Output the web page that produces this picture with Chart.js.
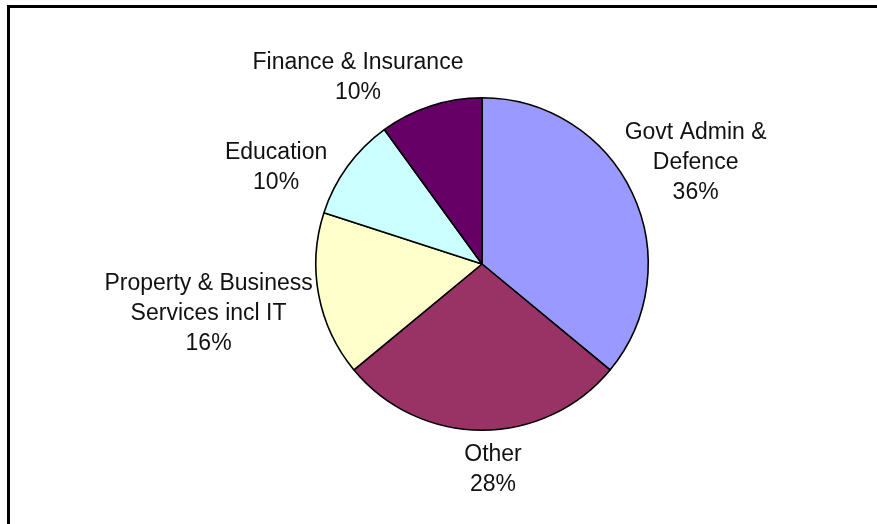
<!DOCTYPE html>
<html>
<head>
<meta charset="utf-8">
<title>Employment by sector</title>
<script src="https://cdn.jsdelivr.net/npm/chart.js@4.4.1/dist/chart.umd.min.js"></script>
<style>
  html, body { margin: 0; padding: 0; background: #fff; }
  #wrap { position: relative; width: 877px; height: 524px; overflow: hidden; }
  canvas { display: block; }
</style>
</head>
<body>
<div id="wrap"><canvas id="sectorChart" width="877" height="524"></canvas></div>
<script>
  // sectors, clockwise from 12 o'clock
  const sectors = [
    ["Govt Admin &", "Defence"],
    ["Other"],
    ["Property & Business", "Services incl IT"],
    ["Education"],
    ["Finance & Insurance"]
  ];
  const shares = [36, 28, 16, 10, 10];
  const sliceColors = ["#9999ff", "#993366", "#ffffcc", "#ccffff", "#660066"];

  // small hand tweaks to the automatic label placement (px)
  const labelNudge = [[-10, -7], [11, -1], [2, 8], [-22, 25], [-37, 10]];

  const FONT = "23px 'Liberation Sans', Arial, sans-serif";
  const LINE_H = 30;
  const LABEL_GAP = 10;

  const framePlugin = {
    id: "frame",
    beforeDraw(chart) {
      const { ctx, width, height } = chart;
      ctx.save();
      ctx.fillStyle = "#fff";
      ctx.fillRect(0, 0, width, height);
      ctx.fillStyle = "#000";
      ctx.fillRect(7, 5, width - 7, 3);
      ctx.fillRect(7, 5, 3, height - 5);
      ctx.restore();
    }
  };

  const sliceLabels = {
    id: "sliceLabels",
    afterDatasetsDraw(chart) {
      const { ctx } = chart;
      const meta = chart.getDatasetMeta(0);
      const total = shares.reduce((a, b) => a + b, 0);
      ctx.save();
      ctx.font = FONT;
      ctx.fillStyle = "#111";
      ctx.textAlign = "center";
      ctx.textBaseline = "middle";
      meta.data.forEach((arc, i) => {
        const { x, y, startAngle, endAngle, outerRadius } =
          arc.getProps(["x", "y", "startAngle", "endAngle", "outerRadius"], true);
        const mid = (startAngle + endAngle) / 2;
        const ux = Math.cos(mid), uy = Math.sin(mid);
        const lines = sectors[i].concat([Math.round(shares[i] / total * 100) + "%"]);
        const w = Math.max(...lines.map((t) => ctx.measureText(t).width));
        const h = lines.length * LINE_H;
        const px = x + ux * (outerRadius + LABEL_GAP);
        const py = y + uy * (outerRadius + LABEL_GAP);
        const cx = px + ux * w / 2 + labelNudge[i][0];
        const cy = py + uy * h / 2 + labelNudge[i][1];
        lines.forEach((t, k) => {
          ctx.fillText(t, cx, cy - h / 2 + LINE_H * (k + 0.5));
        });
      });
      ctx.restore();
    }
  };

  new Chart(document.getElementById("sectorChart"), {
    type: "pie",
    data: {
      labels: sectors.map((s) => s.join(" ")),
      datasets: [
        {
          data: shares,
          backgroundColor: sliceColors,
          borderColor: "#000",
          borderWidth: 1.6
        }
      ]
    },
    options: {
      responsive: false,
      animation: false,
      layout: { padding: { left: 315, right: 228, top: 97, bottom: 93 } },
      plugins: {
        legend: { display: false },
        tooltip: { enabled: false }
      }
    },
    plugins: [framePlugin, sliceLabels]
  });
</script>
</body>
</html>
